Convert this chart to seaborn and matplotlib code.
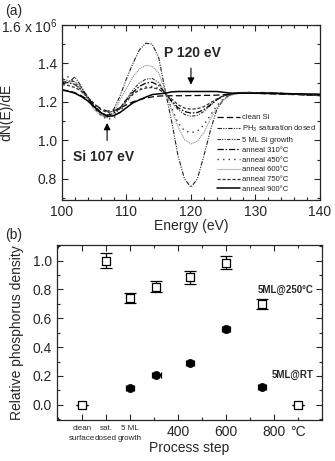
import numpy as np
import pandas as pd
import matplotlib
matplotlib.use("Agg")
import matplotlib.pyplot as plt
from matplotlib.ticker import MultipleLocator
import seaborn as sns

sns.set_style("ticks")
plt.rcParams['font.family'] = ['Liberation Sans', 'DejaVu Sans']
plt.rcParams['mathtext.fontset'] = 'custom'
plt.rcParams['mathtext.rm'] = 'Liberation Sans'

# ---------------- data: panel (a) ----------------
energy = list(range(100, 141))  # eV

clean_si = [1.262, 1.258, 1.248, 1.232, 1.212, 1.188, 1.165, 1.152, 1.155, 1.168,
            1.185, 1.200, 1.212, 1.220, 1.226, 1.230, 1.232, 1.232, 1.232, 1.232,
            1.233, 1.233, 1.234, 1.234, 1.235, 1.237, 1.240, 1.243, 1.245, 1.245,
            1.244, 1.243, 1.242, 1.241, 1.240, 1.239, 1.238, 1.237, 1.236, 1.235, 1.234]
ph3_sat = [1.310, 1.300, 1.330, 1.280, 1.220, 1.170, 1.140, 1.130, 1.160, 1.230,
           1.320, 1.400, 1.470, 1.505, 1.500, 1.430, 1.260, 1.100, 0.920, 0.800,
           0.757, 0.800, 0.920, 1.050, 1.160, 1.210, 1.235, 1.245, 1.250, 1.250,
           1.248, 1.246, 1.250, 1.244, 1.246, 1.242, 1.240, 1.238, 1.236, 1.234, 1.232]
growth_5ml = [1.320, 1.310, 1.305, 1.275, 1.225, 1.175, 1.135, 1.118, 1.130, 1.165,
              1.215, 1.262, 1.298, 1.318, 1.322, 1.300, 1.250, 1.200, 1.160, 1.135,
              1.125, 1.130, 1.150, 1.180, 1.210, 1.230, 1.240, 1.245, 1.248, 1.248,
              1.247, 1.250, 1.246, 1.248, 1.244, 1.243, 1.240, 1.238, 1.236, 1.234, 1.232]
anneal_310 = [1.300, 1.300, 1.290, 1.265, 1.225, 1.180, 1.145, 1.130, 1.140, 1.170,
              1.210, 1.250, 1.280, 1.298, 1.302, 1.285, 1.245, 1.205, 1.170, 1.150,
              1.142, 1.145, 1.160, 1.185, 1.212, 1.230, 1.240, 1.245, 1.247, 1.248,
              1.247, 1.248, 1.246, 1.245, 1.244, 1.243, 1.241, 1.239, 1.237, 1.235, 1.233]
anneal_450 = [1.320, 1.330, 1.300, 1.260, 1.210, 1.165, 1.130, 1.110, 1.115, 1.150,
              1.200, 1.240, 1.265, 1.278, 1.280, 1.270, 1.240, 1.170, 1.090, 1.050,
              1.040, 1.048, 1.080, 1.130, 1.180, 1.215, 1.235, 1.244, 1.247, 1.248,
              1.247, 1.246, 1.245, 1.244, 1.243, 1.242, 1.241, 1.240, 1.239, 1.238, 1.236]
anneal_600 = [1.300, 1.305, 1.290, 1.260, 1.210, 1.160, 1.130, 1.120, 1.140, 1.210,
              1.270, 1.330, 1.370, 1.390, 1.385, 1.350, 1.260, 1.160, 1.070, 1.005,
              0.982, 0.995, 1.040, 1.110, 1.170, 1.210, 1.232, 1.243, 1.247, 1.248,
              1.247, 1.246, 1.245, 1.244, 1.243, 1.242, 1.241, 1.240, 1.239, 1.238, 1.237]
anneal_750 = [1.290, 1.285, 1.275, 1.255, 1.225, 1.190, 1.160, 1.145, 1.150, 1.170,
              1.205, 1.240, 1.262, 1.272, 1.275, 1.265, 1.245, 1.215, 1.185, 1.168,
              1.162, 1.165, 1.175, 1.195, 1.215, 1.232, 1.240, 1.245, 1.247, 1.247,
              1.246, 1.245, 1.244, 1.243, 1.242, 1.241, 1.240, 1.239, 1.238, 1.237, 1.236]
anneal_900 = [1.262, 1.255, 1.245, 1.228, 1.205, 1.175, 1.145, 1.125, 1.128, 1.145,
              1.170, 1.195, 1.210, 1.225, 1.238, 1.242, 1.245, 1.252, 1.254, 1.254,
              1.254, 1.254, 1.254, 1.254, 1.254, 1.250, 1.246, 1.245, 1.245, 1.245,
              1.245, 1.245, 1.244, 1.244, 1.243, 1.243, 1.242, 1.242, 1.241, 1.241, 1.240]

series_labels = ["clean Si", "PH$_3$ saturation dosed", "5 ML Si growth",
                 "anneal 310°C", "anneal 450°C", "anneal 600°C",
                 "anneal 750°C", "anneal 900°C"]
series_values = [clean_si, ph3_sat, growth_5ml, anneal_310, anneal_450,
                 anneal_600, anneal_750, anneal_900]

# ---------------- data: panel (b) ----------------
step_positions = [0, 100, 200, 310, 450, 600, 750, 900]
density_250 = [0.0, 1.0, 0.74, 0.82, 0.885, 0.985, 0.70, 0.0]
err_250 = [0.0, 0.05, 0.035, 0.04, 0.045, 0.045, 0.035, 0.0]
rt_positions = [200, 310, 450, 600, 750]
density_rt = [0.12, 0.21, 0.29, 0.525, 0.125]
err_rt = [0.012, 0.012, 0.012, 0.02, 0.012]
xerr_rt = [18, 18, 18, 18, 18]
step_tick_pos = [0, 100, 200, 400, 600, 800]
step_tick_labels = ["clean\nsurface", "sat.\ndosed", "5 ML\ngrowth", "400", "600", "800"]

# ---------------- figure ----------------
fig = plt.figure(figsize=(3.35, 4.61), dpi=100)
ax1 = fig.add_axes([0.185, 0.566, 0.770, 0.380])
ax2 = fig.add_axes([0.170, 0.089, 0.791, 0.380])

styles = [
    dict(linestyle=(0, (5, 2.5)), color="black", lw=0.9),
    dict(linestyle=(0, (4, 1.2, 1, 1.2, 1, 1.2)), color="#222222", lw=0.8),
    dict(linestyle=(0, (3, 1.2, 1, 1.2, 1, 1.2)), color="#333333", lw=0.8),
    dict(linestyle=(0, (5, 1.5, 1.2, 1.5)), color="black", lw=0.9),
    dict(linestyle=(0, (1, 3)), color="#333333", lw=1.0),
    dict(linestyle=(0, (1, 0.8)), color="#8a8a8a", lw=0.8),
    dict(linestyle=(0, (2.5, 1.5)), color="#333333", lw=0.9),
    dict(linestyle="-", color="black", lw=1.1),
]

for lab, vals, st in zip(series_labels, series_values, styles):
    sns.lineplot(x=energy, y=vals, ax=ax1, label=lab, **st)

for ax in (ax1, ax2):
    ax.tick_params(which="both", direction="in", top=True, right=True,
                   labelsize=10, width=0.8)
    ax.tick_params(which="major", length=4)
    ax.tick_params(which="minor", length=2)
    for sp in ax.spines.values():
        sp.set_linewidth(0.9)
        sp.set_visible(True)

ax1.set_xlim(100, 140)
ax1.set_ylim(0.69, 1.6)
ax1.set_xticks([100, 110, 120, 130, 140])
ax1.xaxis.set_minor_locator(MultipleLocator(2))
ax1.set_yticks([0.8, 1.0, 1.2, 1.4, 1.6],
               labels=["0.8", "1.0", "1.2", "1.4", "1.6 x 10$^6$"])
ax1.yaxis.set_minor_locator(MultipleLocator(0.1))
ax1.set_xlabel("Energy (eV)", fontsize=10, labelpad=0)
ax1.set_ylabel("dN(E)/dE", fontsize=10)
ax1.yaxis.set_label_coords(-0.19, 0.5)

leg = ax1.legend(loc="lower left", bbox_to_anchor=(0.6, 0.04), frameon=False,
                 fontsize=5.5, handlelength=3.0, handletextpad=0.3,
                 labelspacing=0.32, borderpad=0, borderaxespad=0)
for t in leg.get_texts():
    t.set_color("#222222")

ax1.annotate("", xy=(120, 1.275), xytext=(120, 1.39),
             arrowprops=dict(arrowstyle="-|>", color="black", lw=0.8, mutation_scale=10))
ax1.text(120.3, 1.455, "P 120 eV", ha="center", va="center", fontsize=10, fontweight="bold")
ax1.annotate("", xy=(107, 1.105), xytext=(107, 0.985),
             arrowprops=dict(arrowstyle="-|>", color="black", lw=0.8, mutation_scale=10))
ax1.text(106.4, 0.915, "Si 107 eV", ha="center", va="center", fontsize=10, fontweight="bold")

# ---------------- panel (b) ----------------
ax2.errorbar(step_positions, density_250, yerr=err_250, fmt="none",
             ecolor="black", elinewidth=0.9, capsize=4, capthick=0.9, zorder=2)
ax2.errorbar(rt_positions, density_rt, yerr=err_rt, xerr=xerr_rt, fmt="none",
             ecolor="black", elinewidth=1.6, capsize=2.0, capthick=0.9, zorder=2)
sns.scatterplot(x=step_positions, y=density_250, ax=ax2, marker="s", s=36,
                facecolor="white", edgecolor="black", linewidth=0.9, zorder=3)
sns.scatterplot(x=rt_positions, y=density_rt, ax=ax2, marker="o", s=34,
                color="black", edgecolor="black", linewidth=0.5, zorder=3)

ax2.set_xlim(-105, 1000)
ax2.set_ylim(-0.105, 1.11)
ax2.set_xticks(step_tick_pos, labels=step_tick_labels)
ax2.xaxis.set_minor_locator(MultipleLocator(100))
for lab in ax2.get_xticklabels():
    if "\n" in lab.get_text():
        lab.set_fontsize(5.8)
        lab.set_linespacing(1.6)
    else:
        lab.set_fontsize(10)
ax2.set_yticks([0.0, 0.2, 0.4, 0.6, 0.8, 1.0])
ax2.yaxis.set_minor_locator(MultipleLocator(0.1))
ax2.set_xlabel("Process step", fontsize=10)
ax2.xaxis.set_label_coords(0.5, -0.118)
ax2.set_ylabel("Relative phosphorus density", fontsize=10)
ax2.yaxis.set_label_coords(-0.125, 0.5)
ax2.annotate("°C", xy=(800, 0), xycoords=("data", "axes fraction"),
             xytext=(11.5, -3.5), textcoords="offset points",
             ha="left", va="top", fontsize=10)
ax2.text(0.968, 0.8, "5ML@250°C", transform=ax2.get_yaxis_transform(),
         ha="right", va="center", fontsize=7, fontweight="bold")
ax2.text(0.968, 0.205, "5ML@RT", transform=ax2.get_yaxis_transform(),
         ha="right", va="center", fontsize=7, fontweight="bold")

fig.text(0.015, 0.992, "(a)", ha="left", va="top", fontsize=10)
fig.text(0.015, 0.506, "(b)", ha="left", va="top", fontsize=10)

fig.savefig("out.png", dpi=100)
